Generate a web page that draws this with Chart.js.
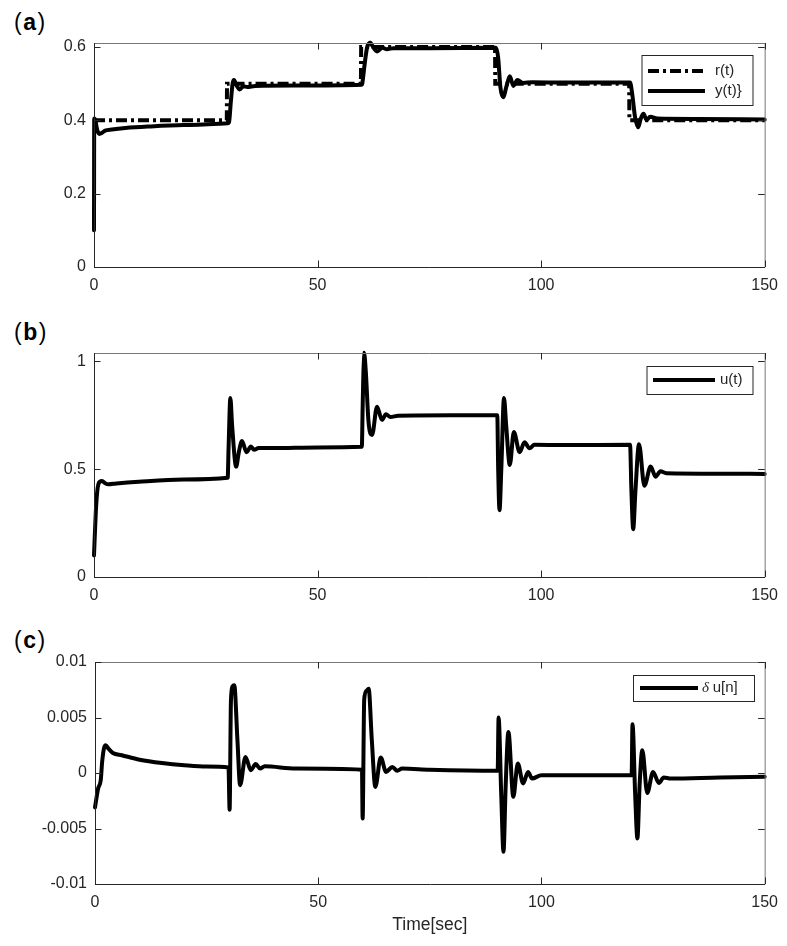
<!DOCTYPE html>
<html>
<head>
<meta charset="utf-8">
<script src="https://cdn.jsdelivr.net/npm/chart.js@4.4.0/dist/chart.umd.min.js"></script>
<style>
  body { margin: 0; background: #fff; width: 787px; height: 946px; position: relative; overflow: hidden;
         font-family: "Liberation Sans", Arial, sans-serif; }
  canvas { position: absolute; left: 0; }
  .tag { position: absolute; left: 14px; font-size: 23px; line-height: 24px; letter-spacing: 1.5px; color: #000; }
</style>
</head>
<body>
<div class="tag" style="top:10px">(<b>a</b>)</div>
<div class="tag" style="top:320px">(<b>b</b>)</div>
<div class="tag" style="top:628px">(<b>c</b>)</div>
<canvas id="ca" width="787" height="310" style="top:0"></canvas>
<canvas id="cb" width="787" height="310" style="top:310px"></canvas>
<canvas id="cc" width="787" height="326" style="top:620px"></canvas>
<script>
// tick values
const xTicks = [0, 50, 100, 150];
const yTicksA = [0, 0.2, 0.4, 0.6];
const yTicksB = [0, 0.5, 1];
const yTicksC = [-0.01, -0.005, 0, 0.005, 0.01];

// (a) reference r(t)
const tR = [0, 29.7, 29.75, 59.7, 59.75, 89.7, 89.75, 119.7, 119.75, 150];
const rVals = [0.4, 0.4, 0.5, 0.5, 0.6, 0.6, 0.5, 0.5, 0.4, 0.4];

// (a) output y(t)
const tY = [0, 0.05, 0.3, 0.7, 1.2, 1.8, 2.5, 4, 7, 12, 20, 29.9,
  30.2, 30.6, 31.0, 31.3, 31.9, 32.6, 33.4, 34.3, 36, 45, 59.9,
  60.0, 60.5, 61.1, 61.8, 62.5, 63.3, 64.5, 65.5, 67, 75, 89.9,
  90.4, 90.9, 91.5, 92.3, 93, 93.8, 94.7, 96, 98, 105, 119.9,
  120.4, 121, 121.7, 122.3, 122.9, 123.6, 124.4, 126, 135, 150];
const yVals = [0.1, 0.405, 0.4, 0.375, 0.363, 0.366, 0.372, 0.375, 0.379, 0.383, 0.387, 0.392,
  0.395, 0.45, 0.5, 0.51, 0.495, 0.484, 0.493, 0.491, 0.494, 0.495, 0.497,
  0.5, 0.55, 0.6, 0.612, 0.598, 0.588, 0.598, 0.594, 0.597, 0.597, 0.598,
  0.57, 0.49, 0.463, 0.495, 0.52, 0.494, 0.51, 0.502, 0.504, 0.503, 0.503,
  0.47, 0.41, 0.381, 0.405, 0.418, 0.401, 0.41, 0.405, 0.404, 0.402];

// (b) control u(t)
const tU = [0, 0.4, 0.8, 1.3, 1.8, 2.5, 3.2, 5, 10, 20, 29.9,
  30.1, 30.5, 30.9, 31.8, 32.4, 33.1, 34.1, 35.1, 35.8, 36.8, 40, 50, 59.9,
  60.1, 60.4, 60.8, 61.4, 62.2, 63.3, 64.4, 65.3, 66.3, 68, 80, 90.2,
  90.4, 90.7, 91.1, 91.7, 92.2, 93.0, 93.9, 95.2, 96.3, 97.4, 98.5, 105, 119.9,
  120.2, 120.6, 121.1, 121.9, 123.1, 124.5, 125.6, 126.7, 128, 140, 150];
const uVals = [0.1, 0.3, 0.41, 0.442, 0.445, 0.435, 0.43, 0.434, 0.442, 0.452, 0.46,
  0.6, 0.83, 0.7, 0.512, 0.58, 0.631, 0.579, 0.605, 0.59, 0.598, 0.598, 0.601, 0.604,
  0.8, 1.04, 0.95, 0.72, 0.659, 0.79, 0.729, 0.755, 0.742, 0.748, 0.75, 0.75,
  0.5, 0.31, 0.5, 0.83, 0.7, 0.52, 0.672, 0.579, 0.625, 0.597, 0.613, 0.612, 0.613,
  0.4, 0.222, 0.4, 0.616, 0.423, 0.512, 0.465, 0.49, 0.481, 0.479, 0.478];

// (c) increment delta u[n]
const tD = [0, 0.7, 1.3, 1.6, 2.0, 2.4, 3.0, 4.0, 6, 10, 15, 20, 25, 29.9,
  30.15, 30.45, 30.8, 31.2, 31.9, 32.5, 33.7, 34.9, 36.0, 37, 38, 45, 59.8,
  59.95, 60.3, 60.8, 61.3, 62.0, 62.8, 64.0, 65.2, 66.6, 67.7, 68.8, 75, 90.2,
  90.4, 91.0, 91.5, 92.0, 92.6, 93.7, 94.7, 95.9, 97.0, 97.9, 100, 110, 120.2,
  120.4, 121.0, 121.5, 122.0, 122.6, 123.7, 125.0, 126.3, 127.4, 129, 140, 150];
const dVals = [-0.0031, -0.0014, -0.0006, 0.001, 0.0022, 0.0025, 0.0022, 0.0018, 0.0016, 0.0012, 0.0009, 0.0007, 0.00058, 0.0005,
  -0.0033, 0.0065, 0.0078, 0.0079, 0.003, -0.0011, 0.00145, 0.00025, 0.0008, 0.0004, 0.0006, 0.0004, 0.0003,
  -0.0041, 0.0066, 0.0074, 0.0076, 0.003, -0.00125, 0.0014, 0.0001, 0.00055, 0.0002, 0.0004, 0.0003, 0.0002,
  0.005, -0.002, -0.0071, -0.001, 0.0037, -0.00215, 0.00086, -0.00094, 0.0001, -0.0005, -0.0002, -0.0002, -0.0002,
  0.0044, -0.002, -0.0059, -0.001, 0.00206, -0.0018, 0.0001, -0.0009, -0.0004, -0.0005, -0.0004, -0.00034];

const AX = '#262626';
const toPts = (ts, vs) => ts.map((t, i) => ({ x: t, y: vs[i] }));

// MATLAB-like box with inward ticks on all four sides
const boxPlugin = {
  id: 'matBox',
  afterDraw(chart) {
    const { ctx, chartArea: a, scales } = chart;
    const len = 6.5;
    ctx.save();
    ctx.lineWidth = 1;
    ctx.strokeStyle = '#777';
    ctx.beginPath();
    ctx.moveTo(a.left, a.top + 0.5); ctx.lineTo(a.right + 0.5, a.top + 0.5); ctx.lineTo(a.right + 0.5, a.bottom);
    ctx.stroke();
    ctx.strokeStyle = AX;
    ctx.beginPath();
    ctx.moveTo(a.left + 0.5, a.top); ctx.lineTo(a.left + 0.5, a.bottom + 0.5); ctx.lineTo(a.right + 0.5, a.bottom + 0.5);
    ctx.stroke();
    ctx.beginPath();
    scales.x.ticks.forEach(t => {
      const px = Math.round(scales.x.getPixelForValue(t.value)) + 0.5;
      ctx.moveTo(px, a.bottom); ctx.lineTo(px, a.bottom - len);
      ctx.moveTo(px, a.top); ctx.lineTo(px, a.top + len);
    });
    scales.y.ticks.forEach(t => {
      const py = Math.round(scales.y.getPixelForValue(t.value)) + 0.5;
      ctx.moveTo(a.left, py); ctx.lineTo(a.left + len, py);
      ctx.moveTo(a.right, py); ctx.lineTo(a.right - len, py);
    });
    ctx.stroke();
    ctx.restore();
  }
};

// boxed legend drawn inside the axes
const legendPlugin = {
  id: 'boxLegend',
  afterDraw(chart, args, o) {
    const { ctx } = chart;
    ctx.save();
    ctx.fillStyle = '#fff';
    ctx.fillRect(o.x, o.y, o.w, o.h);
    ctx.strokeStyle = AX;
    ctx.lineWidth = 1;
    ctx.strokeRect(o.x + 0.5, o.y + 0.5, o.w, o.h);
    o.items.forEach(it => {
      const ds = chart.data.datasets[it.ds];
      ctx.strokeStyle = '#000';
      ctx.lineWidth = ds.borderWidth;
      ctx.setLineDash(ds.borderDash || []);
      ctx.beginPath();
      ctx.moveTo(o.x0, it.y); ctx.lineTo(o.x1, it.y);
      ctx.stroke();
      ctx.setLineDash([]);
      ctx.fillStyle = AX;
      ctx.textBaseline = 'middle';
      let tx = o.tx;
      if (it.italic) {
        ctx.font = 'italic 15px "Liberation Serif", serif';
        ctx.fillText(it.italic, tx, it.y);
        tx += ctx.measureText(it.italic + ' ').width;
      }
      ctx.font = '15px "Liberation Sans", Arial, sans-serif';
      ctx.fillText(it.text, tx, it.y);
    });
    ctx.restore();
  }
};

function makeChart(id, datasets, yMin, yMax, yTicks, lay, legend, xTitle) {
  const tickFont = { family: '"Liberation Sans", Arial, sans-serif', size: 16 };
  return new Chart(document.getElementById(id), {
    type: 'line',
    data: { datasets },
    plugins: [boxPlugin, legendPlugin],
    options: {
      responsive: false,
      animation: false,
      parsing: false,
      layout: { padding: { left: 0, right: lay.right, top: lay.top, bottom: lay.bottom } },
      plugins: { legend: { display: false }, tooltip: { enabled: false }, boxLegend: legend },
      elements: { point: { radius: 0 } },
      scales: {
        x: {
          type: 'linear', min: 0, max: 150,
          grid: { display: false, drawTicks: false }, border: { display: false },
          afterBuildTicks: s => { s.ticks = xTicks.map(v => ({ value: v })); },
          afterFit: s => { s.height = lay.xh; },
          ticks: { color: AX, font: tickFont, padding: 9, maxRotation: 0, callback: v => String(v) },
          title: xTitle ? { display: true, text: xTitle, color: AX, padding: 0,
                            font: { family: '"Liberation Sans", Arial, sans-serif', size: 17.5 } } : { display: false }
        },
        y: {
          type: 'linear', min: yMin, max: yMax,
          grid: { display: false, drawTicks: false }, border: { display: false },
          afterBuildTicks: s => { s.ticks = yTicks.map(v => ({ value: v })); },
          afterFit: s => { s.width = lay.yw; },
          ticks: { color: AX, font: tickFont, padding: 8, callback: v => String(v) }
        }
      }
    }
  });
}

const lineBase = { borderColor: '#000', borderWidth: 4, fill: false, pointRadius: 0, clip: 4,
                   borderJoinStyle: 'round', borderCapStyle: 'round', cubicInterpolationMode: 'monotone' };

makeChart('ca', [
  Object.assign({}, lineBase, { label: 'r(t)', data: toPts(tR, rVals), cubicInterpolationMode: 'default', tension: 0,
                                borderDash: [11, 4, 3, 4], borderCapStyle: 'butt', borderJoinStyle: 'miter', order: 1 }),
  Object.assign({}, lineBase, { label: 'y(t)}', data: toPts(tY, yVals), order: 0 })
], 0, 0.611, yTicksA, { right: 18.5, top: 43, bottom: 13, xh: 30, yw: 94 },
  { x: 641.5, y: 55, w: 111, h: 50, x0: 648, x1: 705, tx: 715,
    items: [{ ds: 0, y: 71, text: 'r(t)' }, { ds: 1, y: 91, text: 'y(t)}' }] });

makeChart('cb', [
  Object.assign({}, lineBase, { label: 'u(t)', data: toPts(tU, uVals) })
], 0, 1.039, yTicksB, { right: 18.5, top: 43, bottom: 13, xh: 30, yw: 94 },
  { x: 646.5, y: 56, w: 106, h: 28, x0: 653, x1: 715, tx: 720,
    items: [{ ds: 0, y: 70, text: 'u(t)' }] });

makeChart('cc', [
  Object.assign({}, lineBase, { label: 'δ u[n]', data: toPts(tD, dVals) })
], -0.01, 0.01, yTicksC, { right: 18, top: 42, bottom: 10.5, xh: 51.5, yw: 95 },
  { x: 633, y: 55, w: 121, h: 26, x0: 640, x1: 698, tx: 702,
    items: [{ ds: 0, y: 68, italic: 'δ', text: 'u[n]' }] }, 'Time[sec]');
</script>
</body>
</html>
